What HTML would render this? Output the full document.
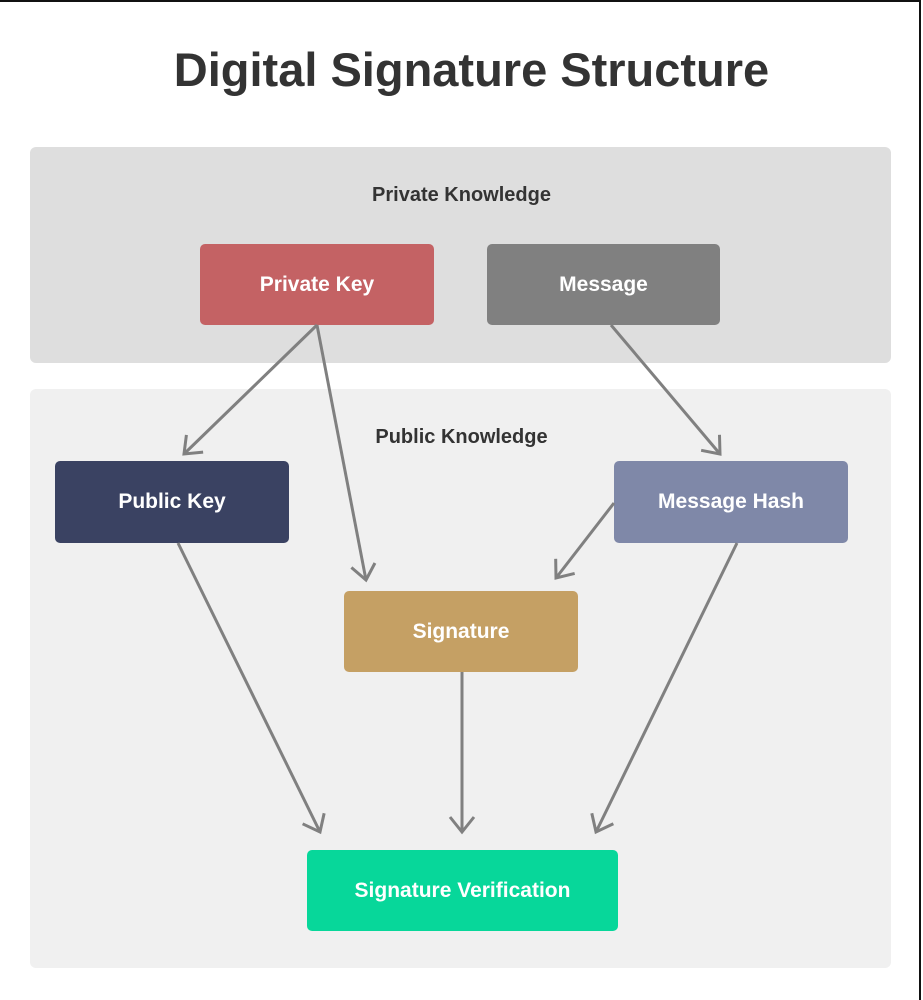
<!DOCTYPE html>
<html><head><style>
html,body{margin:0;padding:0;background:#fff;}
body{width:923px;height:1000px;position:relative;overflow:hidden;font-family:"Liberation Sans",sans-serif;}
.frame{position:absolute;left:0;top:0;width:921px;height:1000px;border-top:2px solid #111;border-right:2px solid #111;box-sizing:border-box;}
.t{position:absolute;left:0;width:923px;text-align:center;color:#333;font-weight:bold;}
.g{position:absolute;border-radius:6px;}
.n{position:absolute;border-radius:5px;color:#fff;font-weight:bold;font-size:21px;display:flex;align-items:center;justify-content:center;}
svg{position:absolute;left:0;top:0;}
</style></head><body>
<div class="frame"></div>
<div class="t" style="top:42px;font-size:47px;left:10px;">Digital Signature Structure</div>
<div class="g" style="left:30px;top:147px;width:861px;height:216px;background:#dedede;"></div>
<div class="g" style="left:30px;top:389px;width:861px;height:579px;background:#f0f0f0;"></div>
<div class="t" style="top:184px;font-size:20px;">Private Knowledge</div>
<div class="t" style="top:426px;font-size:20px;">Public Knowledge</div>
<div class="n" style="left:200px;top:244px;width:234px;height:81px;background:#c46264;">Private Key</div>
<div class="n" style="left:487px;top:244px;width:233px;height:81px;background:#808080;">Message</div>
<div class="n" style="left:55px;top:461px;width:234px;height:82px;background:#3a4262;">Public Key</div>
<div class="n" style="left:614px;top:461px;width:234px;height:82px;background:#7f88a8;">Message Hash</div>
<div class="n" style="left:344px;top:591px;width:234px;height:81px;background:#c5a064;">Signature</div>
<div class="n" style="left:307px;top:850px;width:311px;height:81px;background:#07d79a;">Signature Verification</div>
<svg width="923" height="1000">
<defs><marker id="a" markerWidth="30" markerHeight="30" refX="18" refY="15" orient="auto" markerUnits="userSpaceOnUse">
<path d="M3,3 L18,15 L3,27" fill="none" stroke="#808080" stroke-width="3"/></marker></defs>
<g stroke="#808080" stroke-width="3" fill="none" marker-end="url(#a)">
<line x1="317" y1="325" x2="184" y2="454"/>
<line x1="317" y1="325" x2="366" y2="580"/>
<line x1="611" y1="325" x2="720" y2="454"/>
<line x1="614" y1="503" x2="556" y2="578"/>
<line x1="178" y1="543" x2="320" y2="832"/>
<line x1="462" y1="672" x2="462" y2="832"/>
<line x1="737" y1="543" x2="596" y2="832"/>
</g></svg>
</body></html>
